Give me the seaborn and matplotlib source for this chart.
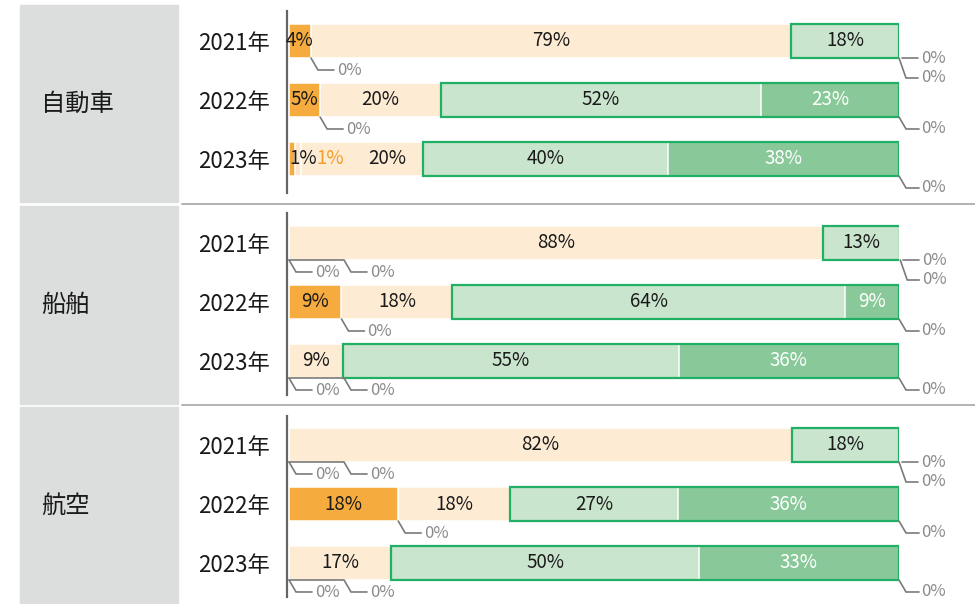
import numpy as np
import pandas as pd
import matplotlib
matplotlib.use("Agg")
import matplotlib.pyplot as plt
import matplotlib.transforms as mtransforms
from matplotlib.patches import Rectangle
from matplotlib.lines import Line2D
import seaborn as sns

sns.set_theme(style="white")
plt.rcParams["font.family"] = ["Noto Sans CJK JP", "DejaVu Sans"]

# ---------------------------------------------------------------- data
groups = ["自動車", "船舶", "航空"]
years = ["2021年", "2022年", "2023年"]
segments = ["s1", "s2", "s3", "s4", "s5", "s6"]

# shares in percent, columns follow `segments`
car_shares = [[3.6, 0.0, 78.7, 17.7, 0.0, 0.0],
              [5.1, 0.0, 19.8, 52.4, 22.7, 0.0],
              [1.0, 0.9, 20.1, 40.2, 37.8, 0.0]]
ship_shares = [[0.0, 0.0, 87.6, 12.6, 0.0, 0.0],
               [8.6, 0.0, 18.2, 64.4, 8.8, 0.0],
               [0.0, 0.0, 8.8, 55.1, 36.1, 0.0]]
air_shares = [[0.0, 0.0, 82.4, 17.6, 0.0, 0.0],
              [17.9, 0.0, 18.4, 27.4, 36.3, 0.0],
              [0.0, 0.0, 16.8, 50.4, 32.8, 0.0]]
group_shares = [car_shares, ship_shares, air_shares]

# ---------------------------------------------------------------- style
seg_colors = ["#F5AB3D", "#FCE7CC", "#FDEBD4", "#C9E5CD", "#89C999", "#3DAA68"]
label_colors = ["#1A1A1A", "#F29F27", "#1A1A1A", "#1A1A1A", "#FFFFFF", "#FFFFFF"]
green_segs = [3, 4, 5]
outline_color = "#1FB066"
callout_line = "#7A7A7A"
callout_text = "#8A8A8A"
panel_color = "#DCDDDD"
BAR_W = 0.576
VAL_FS = 13.5
ZERO_FS = 12

rows = []
for g, shares in zip(groups, group_shares):
    for y, vals in zip(years, shares):
        cum = np.cumsum(vals)
        for si, s in enumerate(segments):
            rows.append(dict(group=g, year=y, seg=s, si=si, value=vals[si],
                             start=cum[si] - vals[si], end=cum[si]))
df = pd.DataFrame(rows)

W, H = 975, 604
fig = plt.figure(figsize=(W / 100, H / 100), dpi=100)


def fx(px):
    return px / W


def fy(py):
    return 1 - py / H


# left category panels and separators
panels = [(5, 202), (206, 404), (407, 604)]
for (t, b), g in zip(panels, groups):
    fig.patches.append(Rectangle((fx(20), fy(b)), fx(178) - fx(20), fy(t) - fy(b),
                                 transform=fig.transFigure, color=panel_color, zorder=0))
    fig.text(fx(41), fy((t + b) / 2), g, ha="left", va="center", fontsize=17.5,
             color="#1A1A1A")
for ly in (204, 405):
    fig.lines.append(Line2D([fx(182), fx(975)], [fy(ly), fy(ly)], transform=fig.transFigure,
                            color="#ADADAD", lw=1.3))

ROW_PX = 59
X_PX = 6.1
XMIN = -0.33
YLIM = (2.58, -0.5)
ax_tops = [11.5, 213.5, 415.5]


def offset_tr(ax, x, y):
    return fig.dpi_scale_trans + mtransforms.ScaledTranslation(x, y, ax.transData)


def draw_callout(ax, x, yb, pts, txt_xy):
    tr = offset_tr(ax, x, yb)
    xs = [p[0] / 100 for p in pts]
    ys = [p[1] / 100 for p in pts]
    ax.add_line(Line2D(xs, ys, transform=tr, color=callout_line, lw=1.2,
                       clip_on=False, solid_joinstyle="miter", zorder=4))
    ax.text(txt_xy[0] / 100, txt_xy[1] / 100, "0%", transform=tr, ha="left",
            va="center", fontsize=ZERO_FS, color=callout_text, clip_on=False)


for gi, g in enumerate(groups):
    h = (YLIM[0] - YLIM[1]) * ROW_PX
    w = (100 - XMIN) * X_PX
    ax = fig.add_axes([fx(287), fy(ax_tops[gi] + h), w / W, h / H])
    sub = df[df.group == g]

    # stacked bars: draw cumulative ends from the last segment back to the first
    for si in reversed(range(len(segments))):
        d = sub[sub.si == si]
        sns.barplot(data=d, x="end", y="year", order=years, orient="y",
                    color=seg_colors[si], saturation=1, width=BAR_W,
                    edgecolor="white", linewidth=1.1, errorbar=None, ax=ax)

    for yi, yr in enumerate(years):
        r = sub[sub.year == yr].sort_values("si")
        vals = r.value.to_numpy()
        starts = r.start.to_numpy()
        ends = r.end.to_numpy()
        yb = yi + BAR_W / 2

        # outline around the green block
        gsum = vals[green_segs].sum()
        if gsum > 0:
            ax.barh(yi, gsum, left=starts[green_segs[0]], height=BAR_W, fill=False,
                    edgecolor=outline_color, linewidth=1.6, zorder=3)

        # value labels; tiny segments get their labels lined up from the left
        small_run = 0
        run_x = None
        small_end_px = None
        for si in range(len(segments)):
            v = vals[si]
            if round(v) == 0:
                continue
            lab = f"{v:.0f}%"
            if v >= 3:
                mid = (starts[si] + ends[si]) / 2
                dx = 0.0
                if small_end_px is not None:
                    dx = max(0.0, small_end_px + 44 - mid * X_PX)
                    small_end_px = None
                small_run = 0
                tr = offset_tr(ax, mid, yi)
                ax.text(dx / 100, 0, lab, transform=tr, ha="center", va="center",
                        fontsize=VAL_FS, color=label_colors[si], zorder=5)
            else:
                if small_run == 0:
                    run_x = starts[si]
                tr = offset_tr(ax, run_x, yi)
                ax.text(small_run * 27 / 100, 0, lab, transform=tr, ha="left",
                        va="center", fontsize=VAL_FS, color=label_colors[si], zorder=5)
                small_run += 1
                small_end_px = run_x * X_PX + small_run * 27

        # callouts for zero-valued segments, grouped by position
        si = 0
        while si < len(segments):
            if round(vals[si]) != 0:
                si += 1
                continue
            run = [si]
            while si + 1 < len(segments) and round(vals[si + 1]) == 0:
                si += 1
                run.append(si)
            si += 1
            x0 = starts[run[0]]
            at_end = x0 >= 99.5
            for k, _ in enumerate(run):
                if at_end:
                    if len(run) > 1 and k == 0:
                        draw_callout(ax, x0, yb, [(3, 0), (19, 0)], (22, -1))
                    elif len(run) > 1:
                        draw_callout(ax, x0, yb, [(0, 0), (7, -20), (19, -20)], (22, -20))
                    else:
                        draw_callout(ax, x0, yb, [(0, 0), (7, -12), (20, -12)], (22, -12))
                else:
                    sh = 55 * k
                    pts = [(0, 0)] + ([(sh, 0)] if k else []) + [(sh + 7, -12), (sh + 23, -12)]
                    draw_callout(ax, x0, yb, pts, (sh + 26, -13))

    ax.set_xlim(XMIN, 100)
    ax.set_ylim(*YLIM)
    ax.set_xlabel("")
    ax.set_ylabel("")
    ax.set_xticks([])
    ax.tick_params(axis="y", length=0, pad=12, labelsize=16, labelcolor="#1A1A1A")
    for side in ("top", "right", "bottom"):
        ax.spines[side].set_visible(False)
    ax.spines["left"].set_color("#666666")
    ax.spines["left"].set_linewidth(1.6)
    ax.patch.set_alpha(0)

fig.savefig("out.png", dpi=100)
